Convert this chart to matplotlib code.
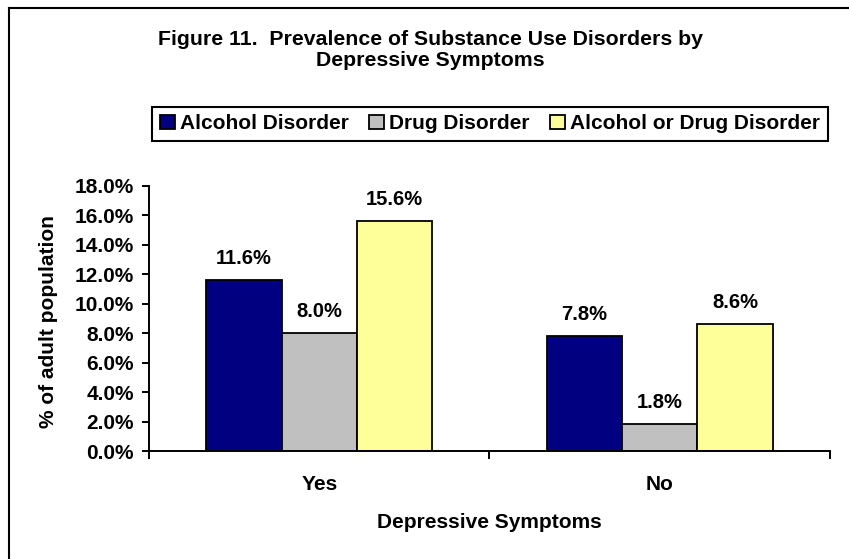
import matplotlib
matplotlib.use("Agg")
import matplotlib.pyplot as plt
import numpy as np
from matplotlib.ticker import PercentFormatter, FixedLocator
from matplotlib.lines import Line2D

# Data
categories = ["Yes", "No"]
series_names = ["Alcohol Disorder", "Drug Disorder", "Alcohol or Drug Disorder"]
alcohol_pct = [11.6, 7.8]
drug_pct = [8.0, 1.8]
either_pct = [15.6, 8.6]
series_colors = ["#000080", "#C0C0C0", "#FFFF99"]

plt.rcParams["font.family"] = ["Liberation Sans", "DejaVu Sans"]
plt.rcParams["font.weight"] = "bold"

fig = plt.figure(figsize=(8.49, 5.59), dpi=100)
ax = fig.add_axes([0.1755, 0.1932, 0.8021, 0.4741])

x = np.arange(len(categories))
width = 0.2217
all_series = [alcohol_pct, drug_pct, either_pct]
for i, (vals, name, col) in enumerate(zip(all_series, series_names, series_colors)):
    bars = ax.bar(x + (i - 1) * width, vals, width, color=col, edgecolor="black",
                  linewidth=1.3, label=name, zorder=2)
    ax.bar_label(bars, labels=[f"{v:.1f}%" for v in vals], padding=9,
                 fontsize=14.5, fontweight="bold")

ax.set_xlim(-0.5, len(categories) - 0.5)
ax.set_ylim(0, 18)
ax.yaxis.set_major_locator(FixedLocator(np.arange(0, 18.1, 2)))
ax.yaxis.set_major_formatter(PercentFormatter(xmax=100, decimals=1))

ax.set_xticks(x)
ax.set_xticklabels(categories)
ax.set_xticks(np.arange(-0.5, len(categories)), minor=True)
ax.tick_params(axis="x", which="major", length=0, pad=17, labelsize=15)
ax.tick_params(axis="x", which="minor", length=5.5, width=1.4, direction="out")
ax.tick_params(axis="y", length=5, width=1.4, direction="out", pad=6, labelsize=15)

for side in ["top", "right"]:
    ax.spines[side].set_visible(False)
for side in ["left", "bottom"]:
    ax.spines[side].set_linewidth(1.4)

ax.set_ylabel("% of adult population", fontsize=15, fontweight="bold", va="center")
ax.yaxis.set_label_coords(-0.1476, 0.49)
ax.set_xlabel("Depressive Symptoms", fontsize=15, fontweight="bold", va="baseline")
ax.xaxis.set_label_coords(0.5, -0.2906)

# title in two lines
fig.text(0.5065, 1 - 45 / 559, "Figure 11.  Prevalence of Substance Use Disorders by",
         ha="center", va="baseline", fontsize=15.3, fontweight="bold")
fig.text(0.5065, 1 - 66 / 559, "Depressive Symptoms",
         ha="center", va="baseline", fontsize=15.3, fontweight="bold")

leg = ax.legend(loc="center", bbox_to_anchor=(0.5771, 0.7782), bbox_transform=fig.transFigure,
                ncol=3, fontsize=15, frameon=True, fancybox=False, shadow=False,
                handlelength=0.72, handleheight=0.62, handletextpad=0.25,
                columnspacing=0.95, borderpad=0.38, borderaxespad=0)
leg.get_frame().set_edgecolor("black")
leg.get_frame().set_linewidth(1.5)
leg.get_frame().set_alpha(1)

# outer chart border (left and top visible)
fig.add_artist(Line2D([8.5 / 849, 8.5 / 849], [0, 1 - 7.5 / 559], color="black", linewidth=1.5,
                      transform=fig.transFigure))
fig.add_artist(Line2D([8.5 / 849, 1], [1 - 7.5 / 559, 1 - 7.5 / 559], color="black", linewidth=1.5,
                      transform=fig.transFigure))

fig.savefig("out.png", dpi=100)
